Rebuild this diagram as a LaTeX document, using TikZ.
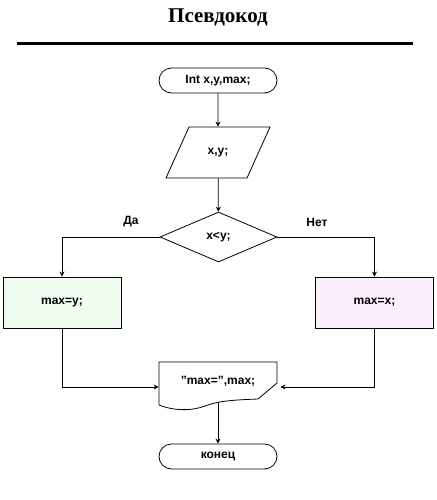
\documentclass[tikz,border=0pt]{standalone}
\usepackage{fontspec}
\setsansfont{Liberation Sans}
\newfontfamily\titlefont{Liberation Serif}
\usetikzlibrary{shapes.geometric,shapes.misc,arrows.meta}
\definecolor{yesfill}{RGB}{240,252,240}
\definecolor{nofill}{RGB}{252,240,252}
\tikzset{
  blk/.style={line width=0.8pt, inner sep=0pt, font=\sffamily\bfseries\fontsize{12}{14}\selectfont},
  term/.style={blk, draw, rounded rectangle, minimum width=118pt, minimum height=25pt},
  proc/.style={blk, draw, rectangle, minimum width=118pt, minimum height=51pt},
  cond/.style={blk, draw, diamond, aspect=2.34, minimum width=117pt, minimum height=50pt},
  lbl/.style={font=\sffamily\bfseries\fontsize{12}{14}\selectfont},
  flow/.style={line width=0.8pt, ->, >={Stealth[length=5pt,width=5pt]}}
}
\begin{document}
\begin{tikzpicture}[x=1pt,y=-1pt]
  \useasboundingbox (0,0) rectangle (436,500);
  \node[font=\titlefont\bfseries\fontsize{21}{24}\selectfont] (title) at (218,17) {Псевдокод};
  \draw[line width=3.5pt] (17,43.5) -- (413,43.5);
  % blocks
  \node[term] (start) at (218,80.5) {Int x,y,max;};
  \draw[blk] (189,127) -- (270,127) -- (247,178) -- (166,178) -- cycle;
  \node[blk, minimum width=104pt, minimum height=51pt] (input) at (218,152.5) {x,y;};
  \node[cond] (test) at (218.5,237) {x<y;};
  \node[lbl] (yeslbl) at (131,222) {Да};
  \node[lbl] (nolbl) at (317,222) {Нет};
  \node[proc, fill=yesfill] (yes) at (62,302.5) {max=y;};
  \node[proc, fill=nofill] (no) at (374.5,302.5) {max=x;};
  \draw[blk] (159,362) -- (277,362) -- (277,383) -- (258,399)
    .. controls (232,400) and (218,401) .. (205,406)
    .. controls (192,411) and (174,411) .. (159,405) -- cycle;
  \node[blk, minimum width=118pt, minimum height=40pt] (out) at (218,382) {\raisebox{4pt}{\symbol{34}max=\symbol{34},max;}};
  \node[term] (stop) at (218,456.5) {конец};
  % connectors
  \draw[flow] (start) -- (input);
  \draw[flow] (input) -- (test);
  \draw[flow] (test.west) -| (yes.north);
  \draw[flow] (test.east) -| (no.north);
  \draw[flow] (yes.south) |- ([yshift=-5pt]out.west);
  \draw[flow] (no.south) |- ([xshift=3pt,yshift=-5pt]out.east);
  \draw[flow] (out.south) -- (stop.north);
\end{tikzpicture}
\end{document}
